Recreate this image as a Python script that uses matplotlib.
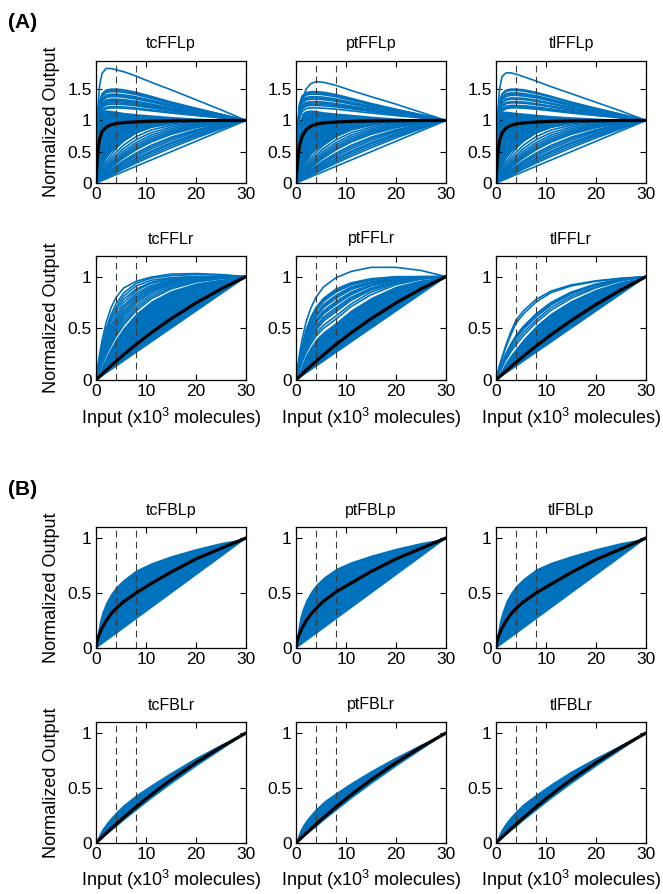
import matplotlib
matplotlib.use("Agg")
import matplotlib.pyplot as plt

plt.rcParams['font.family'] = ['Liberation Sans', 'DejaVu Sans']
plt.rcParams['mathtext.fontset'] = 'custom'
plt.rcParams['mathtext.rm'] = 'Liberation Sans'

BLUE = '#0072BD'

xs = [0, 0.3, 0.7, 1.2, 2, 3, 4, 5.5, 8, 11, 15, 20, 25, 30]

# ---- curves rising from below towards 1 ----
rise_lin = [0, .010, .023, .040, .067, .100, .133, .183, .267, .367, .500, .667, .833, 1]
rise_60 = [0, .013, .030, .050, .083, .124, .164, .223, .317, .425, .562, .720, .866, 1]
rise_40 = [0, .014, .033, .056, .093, .137, .180, .244, .344, .456, .593, .746, .881, 1]
rise_30 = [0, .016, .037, .062, .102, .151, .197, .265, .370, .486, .623, .770, .895, 1]
rise_25 = [0, .017, .040, .067, .110, .162, .212, .283, .392, .509, .646, .788, .905, 1]
rise_20 = [0, .019, .044, .075, .123, .179, .233, .309, .424, .545, .679, .814, .918, 1]
rise_17 = [0, .021, .049, .082, .134, .195, .253, .333, .453, .575, .707, .834, .929, 1]
rise_15 = [0, .023, .053, .089, .144, .210, .271, .355, .478, .601, .731, .852, .938, 1]
rise_12 = [0, .027, .062, .104, .167, .241, .309, .400, .530, .654, .777, .884, .954, 1]
rise_11 = [0, .029, .066, .111, .178, .255, .326, .421, .553, .676, .796, .896, .960, 1]
rise_10 = [0, .031, .071, .119, .191, .273, .347, .445, .580, .702, .818, .910, .966, 1]
rise_9 = [0, .034, .078, .129, .207, .294, .372, .474, .611, .732, .841, .925, .973, 1]
rise_8 = [0, .038, .086, .143, .227, .320, .403, .509, .647, .765, .867, .940, .979, 1]
rise_7 = [0, .043, .097, .160, .252, .353, .441, .552, .691, .803, .895, .956, .985, 1]
rise_6 = [0, .049, .111, .183, .285, .396, .490, .604, .741, .846, .924, .971, .991, 1]
rise_5 = [0, .058, .131, .213, .330, .452, .551, .668, .799, .889, .950, .984, .994, 1]
rise_4 = [0, .072, .161, .259, .393, .528, .632, .747, .865, .936, .976, .993, .998, 1]
rise_3 = [0, .095, .208, .330, .487, .632, .736, .840, .931, .974, .993, .999, 1, 1]
ffl_p_lower = [rise_lin, rise_60, rise_40, rise_30, rise_25, rise_20, rise_17, rise_15,
               rise_12, rise_11, rise_10, rise_9, rise_8, rise_7, rise_6, rise_5, rise_4, rise_3]

# ---- curves overshooting above 1 (FFLp panels), named by their peak ----
over_150 = [0, .90, 1.29, 1.425, 1.485, 1.50, 1.50, 1.49, 1.45, 1.385, 1.295, 1.195, 1.10, 1]
over_148 = [0, .89, 1.27, 1.41, 1.465, 1.48, 1.48, 1.47, 1.43, 1.37, 1.283, 1.187, 1.096, 1]
over_146 = [0, .88, 1.26, 1.39, 1.445, 1.46, 1.46, 1.45, 1.414, 1.354, 1.271, 1.179, 1.092, 1]
over_144 = [0, .86, 1.24, 1.37, 1.425, 1.44, 1.44, 1.43, 1.396, 1.339, 1.26, 1.172, 1.088, 1]
over_142 = [0, .85, 1.22, 1.35, 1.405, 1.42, 1.42, 1.41, 1.378, 1.323, 1.248, 1.164, 1.084, 1]
over_140 = [0, .84, 1.20, 1.33, 1.385, 1.40, 1.40, 1.39, 1.36, 1.308, 1.236, 1.156, 1.08, 1]
over_138 = [0, .83, 1.19, 1.31, 1.366, 1.38, 1.38, 1.372, 1.342, 1.293, 1.224, 1.148, 1.076, 1]
over_136 = [0, .82, 1.17, 1.29, 1.346, 1.36, 1.36, 1.353, 1.324, 1.277, 1.212, 1.14, 1.072, 1]
over_134 = [0, .80, 1.15, 1.27, 1.327, 1.34, 1.34, 1.333, 1.306, 1.262, 1.20, 1.133, 1.068, 1]
over_132 = [0, .79, 1.14, 1.25, 1.307, 1.32, 1.32, 1.314, 1.288, 1.246, 1.189, 1.125, 1.064, 1]
over_130 = [0, .78, 1.12, 1.235, 1.287, 1.30, 1.30, 1.294, 1.27, 1.231, 1.177, 1.117, 1.06, 1]
over_128 = [0, .77, 1.10, 1.215, 1.267, 1.28, 1.28, 1.275, 1.252, 1.216, 1.165, 1.109, 1.056, 1]
over_126 = [0, .76, 1.08, 1.20, 1.247, 1.26, 1.26, 1.255, 1.234, 1.20, 1.153, 1.101, 1.052, 1]
over_124 = [0, .74, 1.07, 1.18, 1.228, 1.24, 1.24, 1.235, 1.216, 1.185, 1.142, 1.094, 1.048, 1]
over_122 = [0, .73, 1.05, 1.16, 1.208, 1.22, 1.22, 1.216, 1.198, 1.169, 1.13, 1.086, 1.044, 1]
over_120 = [0, .72, 1.03, 1.14, 1.188, 1.20, 1.20, 1.196, 1.18, 1.154, 1.118, 1.078, 1.04, 1]

# ---- tcFFLp ----
tcFFLp_black = [0, 0.45, 0.70, 0.82, 0.89, 0.93, 0.95, 0.965, 0.978, 0.987, 0.993, 0.997, 0.999, 1.0]
tcFFLp_lo = [0, 0.10, 0.20, 0.30, 0.40, 0.50, 0.57, 0.67, 0.80, 0.89, 0.95, 0.984, 0.994, 1.0]
tcFFLp_hi = [0, 0.95, 1.12, 1.16, 1.17, 1.16, 1.15, 1.13, 1.11, 1.09, 1.065, 1.04, 1.02, 1.0]
tcFFLp_top = [0, 1.10, 1.55, 1.75, 1.83, 1.83, 1.81, 1.78, 1.71, 1.61, 1.49, 1.33, 1.17, 1.0]
tcFFLp_up = [tcFFLp_top, over_150, over_148, over_146, over_142, over_140, over_138,
             over_134, over_132, over_130, over_128, over_126, over_122, over_120]

# ---- ptFFLp ----
ptFFLp_black = [0, 0.35, 0.60, 0.74, 0.85, 0.91, 0.94, 0.96, 0.975, 0.985, 0.992, 0.996, 0.999, 1.0]
ptFFLp_lo = [0, 0.08, 0.17, 0.26, 0.36, 0.46, 0.53, 0.62, 0.74, 0.85, 0.93, 0.975, 0.99, 1.0]
ptFFLp_hi = [0, 0.60, 0.98, 1.12, 1.16, 1.17, 1.16, 1.14, 1.12, 1.10, 1.07, 1.04, 1.02, 1.0]
ptFFLp_top = [0, 0.55, 1.00, 1.30, 1.50, 1.59, 1.62, 1.61, 1.56, 1.48, 1.38, 1.26, 1.13, 1.0]
ptFFLp_up = [ptFFLp_top, over_146, over_144, over_142, over_138, over_136, over_134,
             over_130, over_128, over_126, over_124, over_120]

# ---- tlFFLp ----
tlFFLp_black = [0, 0.42, 0.68, 0.80, 0.88, 0.92, 0.945, 0.96, 0.975, 0.985, 0.992, 0.996, 0.999, 1.0]
tlFFLp_lo = [0, 0.10, 0.20, 0.30, 0.40, 0.50, 0.57, 0.67, 0.80, 0.89, 0.95, 0.984, 0.994, 1.0]
tlFFLp_hi = [0, 0.92, 1.10, 1.14, 1.15, 1.14, 1.13, 1.12, 1.10, 1.08, 1.06, 1.04, 1.02, 1.0]
tlFFLp_top = [0, 1.05, 1.50, 1.70, 1.76, 1.76, 1.74, 1.70, 1.63, 1.54, 1.43, 1.29, 1.15, 1.0]
tlFFLp_up = [tlFFLp_top, over_150, over_148, over_144, over_142, over_140, over_136,
             over_134, over_130, over_128, over_124, over_122, over_120]

# ---- tcFFLr ----
tcFFLr_black = rise_40
tcFFLr_lo = rise_lin
tcFFLr_hi = rise_8
tcFFLr_up = [
    [0, .113, .244, .381, .551, .699, .798, .889, .955, .995, 1.025, 1.03, 1.02, 1.0],
    [0, .095, .208, .330, .487, .632, .736, .840, .935, .985, 1.01, 1.02, 1.015, 1.0],
    [0, .085, .190, .305, .455, .600, .700, .810, .910, .965, .990, 1.0, 1.0, 1.0],
    [0, .080, .180, .290, .430, .570, .670, .780, .880, .945, .985, 1.0, 1.0, 1.0],
    rise_4,
    [0, .068, .150, .245, .375, .500, .600, .715, .840, .915, .965, .988, .997, 1.0],
    [0, .063, .142, .230, .355, .480, .580, .695, .820, .900, .957, .986, .995, 1.0],
    rise_5,
    [0, .055, .125, .205, .315, .430, .530, .645, .780, .875, .940, .980, .993, 1.0],
    [0, .052, .118, .194, .300, .413, .510, .625, .760, .860, .932, .975, .992, 1.0],
    rise_6,
    [0, .046, .104, .172, .268, .375, .466, .578, .715, .825, .910, .963, .988, 1.0],
    rise_7,
    [0, .040, .091, .151, .239, .336, .421, .530, .668, .784, .881, .948, .982, 1.0],
]

# ---- ptFFLr ----
ptFFLr_black = rise_40
ptFFLr_lo = rise_lin
ptFFLr_hi = [0, .045, .10, .16, .25, .33, .40, .47, .56, .68, .80, .91, .97, 1.0]
ptFFLr_up = [
    [0, .12, .25, .39, .56, .70, .80, .90, .99, 1.05, 1.09, 1.09, 1.06, 1.0],
    [0, .090, .20, .32, .48, .61, .70, .79, .88, .94, .98, 1.0, 1.0, 1.0],
    [0, .087, .195, .31, .465, .595, .685, .775, .865, .93, .972, .995, 1.0, 1.0],
    [0, .085, .19, .30, .45, .58, .67, .76, .85, .92, .965, .99, 1.0, 1.0],
    [0, .080, .18, .28, .42, .55, .64, .73, .82, .90, .95, .985, .997, 1.0],
    [0, .077, .172, .272, .41, .535, .625, .715, .805, .888, .945, .982, .996, 1.0],
    [0, .075, .165, .265, .40, .52, .61, .70, .79, .875, .94, .98, .995, 1.0],
    [0, .070, .155, .25, .375, .49, .58, .67, .76, .85, .925, .975, .993, 1.0],
    [0, .067, .15, .242, .362, .475, .565, .655, .745, .838, .918, .97, .991, 1.0],
    [0, .065, .145, .235, .35, .46, .55, .64, .73, .825, .91, .965, .99, 1.0],
    [0, .060, .135, .22, .33, .43, .52, .61, .70, .80, .89, .955, .987, 1.0],
    [0, .057, .13, .21, .315, .415, .50, .59, .68, .785, .88, .95, .985, 1.0],
    [0, .055, .125, .20, .30, .40, .48, .57, .66, .77, .87, .945, .983, 1.0],
    [0, .050, .115, .185, .28, .37, .45, .53, .62, .735, .85, .935, .98, 1.0],
    [0, .048, .108, .172, .265, .35, .425, .50, .59, .71, .825, .922, .975, 1.0],
]

# ---- tlFFLr ----
tlFFLr_black = [0, .013, .031, .053, .087, .129, .170, .231, .328, .438, .574, .731, .872, 1]
tlFFLr_lo = rise_lin
tlFFLr_hi = [0, .030, .068, .112, .178, .25, .31, .40, .53, .65, .77, .88, .955, 1.0]
tlFFLr_up = [
    [0, .060, .14, .22, .34, .47, .58, .67, .78, .86, .92, .96, .985, 1.0],
    [0, .055, .13, .205, .32, .44, .55, .64, .755, .845, .91, .955, .982, 1.0],
    [0, .045, .10, .165, .255, .35, .43, .52, .64, .75, .85, .93, .975, 1.0],
    [0, .042, .095, .157, .245, .337, .415, .505, .625, .737, .84, .925, .972, 1.0],
    [0, .040, .09, .15, .235, .325, .40, .49, .61, .725, .83, .92, .97, 1.0],
    [0, .036, .082, .136, .215, .30, .37, .46, .58, .70, .81, .905, .965, 1.0],
    [0, .033, .075, .124, .196, .275, .34, .43, .555, .675, .79, .892, .96, 1.0],
]

# ---- FBL panels: band edges and the reference curve ----
tcFBLp_black = [0, .08, .13, .18, .245, .31, .36, .42, .50, .585, .69, .81, .905, 1.0]
tcFBLp_lo = rise_lin
tcFBLp_hi = [0, .15, .25, .33, .42, .50, .56, .625, .71, .775, .84, .905, .96, 1.0]
ptFBLp_black = [0, .08, .13, .18, .245, .31, .36, .425, .51, .59, .695, .81, .905, 1.0]
ptFBLp_lo = rise_lin
ptFBLp_hi = [0, .16, .27, .35, .44, .52, .58, .645, .725, .785, .845, .908, .96, 1.0]
tlFBLp_black = [0, .08, .13, .18, .245, .31, .36, .42, .50, .58, .685, .805, .90, 1.0]
tlFBLp_lo = rise_lin
tlFBLp_hi = [0, .15, .25, .33, .43, .51, .57, .635, .72, .78, .84, .905, .96, 1.0]

fbl_r_black = [0, .013, .031, .053, .087, .129, .170, .231, .328, .438, .574, .731, .872, 1]
fbl_r_lo = [0, .011, .026, .045, .076, .113, .150, .207, .298, .405, .540, .700, .850, 1]
tcFBLr_hi = [0, .05, .09, .13, .18, .235, .285, .35, .44, .53, .645, .78, .90, 1]
ptFBLr_hi = [0, .06, .11, .155, .21, .265, .315, .38, .46, .55, .66, .785, .90, 1]
tlFBLr_hi = [0, .05, .095, .135, .19, .245, .295, .36, .445, .54, .655, .78, .895, 1]

titles = [['tcFFLp', 'ptFFLp', 'tlFFLp'],
          ['tcFFLr', 'ptFFLr', 'tlFFLr'],
          ['tcFBLp', 'ptFBLp', 'tlFBLp'],
          ['tcFBLr', 'ptFBLr', 'tlFBLr']]
ytop = [1.95, 1.2, 1.1, 1.1]
yticks_p = [0, 0.5, 1, 1.5]
yticks = [0, 0.5, 1]
ytick_labels_p = ['0', '0.5', '1', '1.5']
ytick_labels = ['0', '0.5', '1']
xticks = [0, 10, 20, 30]
dash_x = [4, 8]

panels = [
    [(tcFFLp_lo, tcFFLp_hi, ffl_p_lower + tcFFLp_up, tcFFLp_black),
     (ptFFLp_lo, ptFFLp_hi, ffl_p_lower + ptFFLp_up, ptFFLp_black),
     (tlFFLp_lo, tlFFLp_hi, ffl_p_lower + tlFFLp_up, tlFFLp_black)],
    [(tcFFLr_lo, tcFFLr_hi, tcFFLr_up, tcFFLr_black),
     (ptFFLr_lo, ptFFLr_hi, ptFFLr_up, ptFFLr_black),
     (tlFFLr_lo, tlFFLr_hi, tlFFLr_up, tlFFLr_black)],
    [(tcFBLp_lo, tcFBLp_hi, [], tcFBLp_black),
     (ptFBLp_lo, ptFBLp_hi, [], ptFBLp_black),
     (tlFBLp_lo, tlFBLp_hi, [], tlFBLp_black)],
    [(fbl_r_lo, tcFBLr_hi, [], fbl_r_black),
     (fbl_r_lo, ptFBLr_hi, [], fbl_r_black),
     (fbl_r_lo, tlFBLr_hi, [], fbl_r_black)],
]

W, H = 663, 894
fig = plt.figure(figsize=(W / 100, H / 100), dpi=100)

col_left = [96, 296, 496]
axw = 150
row_top = [61, 256, 527, 722]
row_bot = [183, 380, 648, 843]

for r in range(4):
    for c in range(3):
        lo, hi, curves, black = panels[r][c]
        ax = fig.add_axes([col_left[c] / W, 1 - row_bot[r] / H,
                           axw / W, (row_bot[r] - row_top[r]) / H])
        ax.fill_between(xs, lo, hi, color=BLUE, lw=0)
        for cv in curves:
            ax.plot(xs, cv, color=BLUE, lw=1.2)
        for xv in dash_x:
            ax.axvline(xv, color='#3a3a3a', lw=0.8, ls=(0, (6, 4)))
        ax.plot(xs, black, color='black', lw=2.3)

        ax.set_xlim(0, 30)
        ax.set_ylim(0, ytop[r])
        ax.set_xticks(xticks)
        ax.set_xticklabels([str(t) for t in xticks])
        if r == 0:
            ax.set_yticks(yticks_p)
            ax.set_yticklabels(ytick_labels_p)
        else:
            ax.set_yticks(yticks)
            ax.set_yticklabels(ytick_labels)
        ax.tick_params(direction='in', top=True, right=True, length=4,
                       width=0.8, labelsize=12.5, pad=3)
        for sp in ax.spines.values():
            sp.set_linewidth(0.9)
        ax.set_title(titles[r][c], fontsize=11.5, pad=9)
        if c == 0:
            ax.set_ylabel('Normalized Output', fontsize=13)
            ax.yaxis.set_label_coords(-0.24, 0.5)
        if r in (1, 3):
            ax.set_xlabel('Input (x10$^3$ molecules)', fontsize=13)
            ax.xaxis.set_label_coords(0.5, -0.21 if r == 1 else -0.205)

fig.text(8 / W, 1 - 22 / H, '(A)', fontsize=15, fontweight='bold', va='center', ha='left')
fig.text(8 / W, 1 - 490 / H, '(B)', fontsize=15, fontweight='bold', va='center', ha='left')

fig.savefig('out.png', dpi=100)
